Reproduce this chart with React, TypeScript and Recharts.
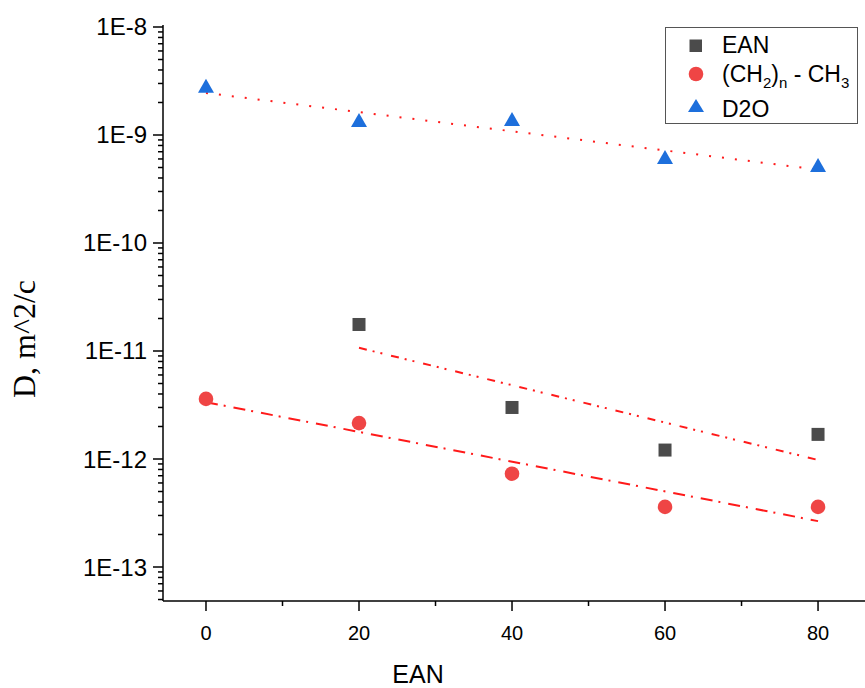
import { ComposedChart, Line, Scatter, XAxis, YAxis } from "recharts";

const eanX = [20, 40, 60, 80];
const eanD = [1.76e-11, 3.0e-12, 1.21e-12, 1.69e-12];
const chX = [0, 20, 40, 60, 80];
const chD = [3.6e-12, 2.15e-12, 7.31e-13, 3.6e-13, 3.6e-13];
const d2oX = [0, 20, 40, 60, 80];
const d2oD = [2.85e-9, 1.38e-9, 1.41e-9, 6.26e-10, 5.27e-10];

// linear fits on the log axis, end points
const d2oFitX = [0, 80];
const d2oFit = [2.45e-9, 4.78e-10];
const eanFitX = [20, 80];
const eanFit = [1.07e-11, 9.8e-13];
const chFitX = [0, 80];
const chFit = [3.36e-12, 2.66e-13];

const xMajor = [0, 20, 40, 60, 80];
const xMinor = [10, 30, 50, 70];
const yMajor = [1e-8, 1e-9, 1e-10, 1e-11, 1e-12, 1e-13];
const yMajorLabels = ["1E-8", "1E-9", "1E-10", "1E-11", "1E-12", "1E-13"];

const xDomain: [number, number] = [-5.62, 86.27];
const yDomain: [number, number] = [4.844e-14, 1.0435e-8];

const yMinor: number[] = [];
for (let e = -14; e <= -9; e++) {
  for (let m = 2; m <= 9; m++) {
    const v = m * Math.pow(10, e);
    if (v > yDomain[0] && v < yDomain[1]) yMinor.push(v);
  }
}

const zip = (xs: number[], ys: number[]) => xs.map((x, i) => ({ x, y: ys[i] }));

const colors = { ean: "#4b4b4b", ch: "#ef4545", d2o: "#1d6fdc", fit: "#ff1a1a" };
const sans = "'Liberation Sans', Arial, sans-serif";

function XTick(props: any) {
  const { x, y, payload } = props;
  const major = xMajor.includes(payload.value);
  return (
    <g>
      <line x1={x} x2={x} y1={y} y2={y + (major ? 10 : 5)} stroke="#000" strokeWidth={1.5} />
      {major && (
        <text x={x} y={y + 39} textAnchor="middle" fontSize={20} fontFamily={sans} fill="#000">
          {payload.value}
        </text>
      )}
    </g>
  );
}

function YTick(props: any) {
  const { x, y, payload } = props;
  const idx = yMajor.indexOf(payload.value);
  const major = idx >= 0;
  return (
    <g>
      <line x1={x} x2={x - (major ? 10 : 5)} y1={y} y2={y} stroke="#000" strokeWidth={1.5} />
      {major && (
        <text x={x - 16} y={y + 8.5} textAnchor="end" fontSize={24} fontFamily={sans} fill="#000">
          {yMajorLabels[idx]}
        </text>
      )}
    </g>
  );
}

const Square = (p: any) => <rect x={p.cx - 6.5} y={p.cy - 6.5} width={13} height={13} fill={colors.ean} />;
const Dot = (p: any) => <circle cx={p.cx} cy={p.cy} r={7.3} fill={colors.ch} />;
const Tri = (p: any) => (
  <polygon points={`${p.cx},${p.cy - 7} ${p.cx + 8},${p.cy + 7} ${p.cx - 8},${p.cy + 7}`} fill={colors.d2o} />
);

function LegendBox() {
  const sub = { fontSize: 15 };
  return (
    <div
      style={{
        position: "absolute",
        left: 665,
        top: 27,
        width: 191,
        height: 95,
        border: "1.5px solid #555",
        background: "#fff",
        fontFamily: sans,
        fontSize: 23,
        color: "#000",
      }}
    >
      <svg width={30} height={90} style={{ position: "absolute", left: 15, top: 0 }}>
        <rect x={8.5} y={11.5} width={12.5} height={12.5} fill={colors.ean} />
        <circle cx={15} cy={46} r={7.3} fill={colors.ch} />
        <polygon points="15,71 23,84 7,84" fill={colors.d2o} />
      </svg>
      <div style={{ position: "absolute", left: 56, top: 5, lineHeight: "24px" }}>EAN</div>
      <div style={{ position: "absolute", left: 56, top: 34, lineHeight: "24px", whiteSpace: "nowrap" }}>
        (CH<sub style={sub}>2</sub>)<sub style={sub}>n</sub> - CH<sub style={sub}>3</sub>
      </div>
      <div style={{ position: "absolute", left: 56, top: 69, lineHeight: "24px" }}>D2O</div>
    </div>
  );
}

export default function App() {
  return (
    <div style={{ position: "absolute", left: 0, top: 0, width: 865, height: 688, overflow: "hidden", background: "#fff" }}>
      <ComposedChart width={870} height={688} margin={{ top: 25, right: 4, left: 0, bottom: 0 }}>
        <XAxis
          dataKey="x"
          type="number"
          domain={xDomain}
          allowDataOverflow
          ticks={[...xMajor, ...xMinor].sort((a, b) => a - b)}
          interval={0}
          tick={<XTick />}
          tickSize={0}
          tickMargin={0}
          tickLine={false}
          axisLine={{ stroke: "#000", strokeWidth: 1.5 }}
          height={87}
          label={(lp: any) => (
            <text
              x={lp.viewBox.x + 255}
              y={lp.viewBox.y + 82}
              textAnchor="middle"
              fontSize={25}
              fontFamily={sans}
              fill="#000"
            >
              EAN
            </text>
          )}
        />
        <XAxis
          xAxisId="top"
          orientation="top"
          type="number"
          domain={xDomain}
          allowDataOverflow
          height={0}
          tick={false}
          tickLine={false}
          axisLine={{ stroke: "#000", strokeWidth: 1.5 }}
        />
        <YAxis
          dataKey="y"
          type="number"
          scale="log"
          domain={yDomain}
          allowDataOverflow
          ticks={[...yMajor, ...yMinor]}
          interval={0}
          tick={<YTick />}
          tickSize={0}
          tickMargin={0}
          tickLine={false}
          axisLine={{ stroke: "#000", strokeWidth: 1.5 }}
          width={163}
          label={() => (
            <text
              x={24}
              y={339}
              transform="rotate(-90 24 339)"
              textAnchor="middle"
              dominantBaseline="central"
              fontSize={32}
              fontFamily="'Liberation Serif', 'Times New Roman', serif"
              fill="#000"
            >
              D, m^2/c
            </text>
          )}
        />
        <Line
          data={zip(d2oFitX, d2oFit)}
          dataKey="y"
          stroke={colors.fit}
          strokeWidth={2}
          strokeDasharray="2 11"
          dot={false}
          activeDot={false}
          isAnimationActive={false}
        />
        <Line
          data={zip(eanFitX, eanFit)}
          dataKey="y"
          stroke={colors.fit}
          strokeWidth={2}
          strokeDasharray="8 6 2 6 2 9"
          dot={false}
          activeDot={false}
          isAnimationActive={false}
        />
        <Line
          data={zip(chFitX, chFit)}
          dataKey="y"
          stroke={colors.fit}
          strokeWidth={2}
          strokeDasharray="12 6 2 8"
          dot={false}
          activeDot={false}
          isAnimationActive={false}
        />
        <Scatter data={zip(eanX, eanD)} dataKey="y" shape={Square} isAnimationActive={false} />
        <Scatter data={zip(chX, chD)} dataKey="y" shape={Dot} isAnimationActive={false} />
        <Scatter data={zip(d2oX, d2oD)} dataKey="y" shape={Tri} isAnimationActive={false} />
      </ComposedChart>
      <LegendBox />
    </div>
  );
}
